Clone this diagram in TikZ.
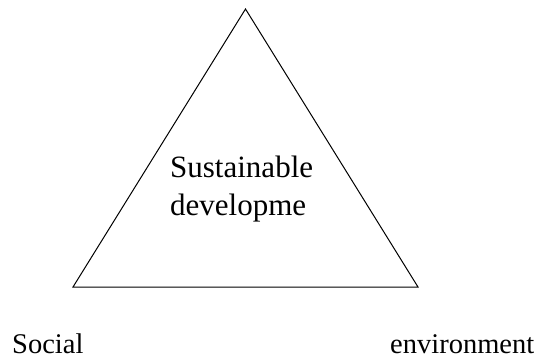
\documentclass[tikz,border=0pt]{standalone}
\usepackage{fontspec}
\setmainfont{Liberation Serif}
\begin{document}
\begin{tikzpicture}[x=1pt,y=1pt,
    edge/.style={draw=black, line width=1pt, line join=miter},
    inner/.style={anchor=base west, inner sep=0pt, font=\fontsize{31}{38}\selectfont},
    corner/.style={anchor=base west, inner sep=0pt, font=\fontsize{28.5}{34}\selectfont}]
  \useasboundingbox (0,0) rectangle (538,360);
  % triangle corners
  \coordinate (apex) at (245.5,351);
  \coordinate (bl) at (73,73);
  \coordinate (br) at (418,73);
  \draw[edge] (apex) -- (bl) -- (br) -- cycle;
  % label inside the triangle
  \node[inner] (sus) at (170,183) {Sustainable};
  \node[inner] (dev) at (170,145) {developme};
  % labels below the base corners
  \node[corner] (social) at (12,7) {Social};
  \node[corner] (env) at (390,7) {environment};
\end{tikzpicture}
\end{document}
